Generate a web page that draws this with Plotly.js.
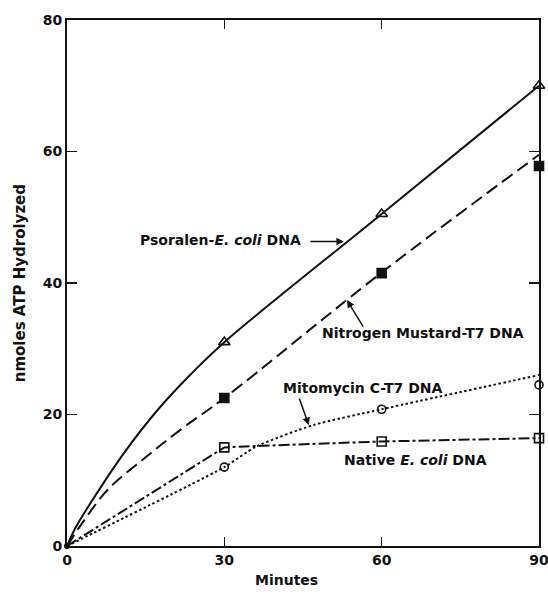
<!DOCTYPE html>
<html>
<head>
<meta charset="utf-8">
<script src="https://cdn.plot.ly/plotly-3.0.1.min.js"></script>
<style>html,body{margin:0;padding:0;background:#fff;}#chart{width:548px;height:594px;}</style>
</head>
<body>
<div id="chart"></div>
<script>
// Measured points (minutes)
const minutes = [0, 30, 60, 90];
const psoralenPts = [0, 31, 50.5, 70];
const mustardPts = [0, 22.5, 41.5, 57.8];
const mitomycinPts = [0, 12, 20.8, 24.5];
const nativePts = [0, 15, 15.9, 16.4];

// Drawn curves
const psoralenCurveX = [0, 1.5, 4.7, 11.1, 17.4, 23.7, 30, 60, 90];
const psoralenCurveY = [0, 2.6, 6.8, 14.4, 20.8, 26.2, 31, 50.5, 70];
const mustardCurveX = [0, 3, 7.8, 15, 22, 30, 60, 90];
const mustardCurveY = [0, 3.6, 8.6, 13.5, 17.9, 22.5, 41.6, 59.5];
const mitomycinCurveX = [0, 30, 36, 47, 60, 90];
const mitomycinCurveY = [0, 12, 15.1, 18.4, 20.8, 26];
const nativeCurveX = [0, 30, 34, 40, 60, 90];
const nativeCurveY = [0, 15, 15.15, 15.3, 15.9, 16.4];

const xTicks = [0, 30, 60, 90];
const yTicks = [0, 20, 40, 60, 80];

const FONT = 'DejaVu Sans, Liberation Sans, sans-serif';
const INK = '#111';

function curve(x, y, dash, shape, sm) {
  return {x: x, y: y, type: 'scatter', mode: 'lines', showlegend: false, hoverinfo: 'skip',
    line: {color: INK, width: 2, dash: dash, shape: shape, smoothing: sm}, cliponaxis: false};
}
function pts(y, symbol, size) {
  return {x: minutes.slice(1), y: y.slice(1), type: 'scatter', mode: 'markers', showlegend: false,
    marker: {symbol: symbol, size: size, color: INK, line: {color: INK, width: 1.6}}, cliponaxis: false};
}

const traces = [
  curve(psoralenCurveX, psoralenCurveY, 'solid', 'spline', 1),
  curve(mustardCurveX, mustardCurveY, '13px,6px', 'spline', 1),
  curve(mitomycinCurveX, mitomycinCurveY, '2.5px,2.5px', 'spline', 0.6),
  curve(nativeCurveX, nativeCurveY, '11px,3px,3px,3px', 'linear', 0),
  pts(psoralenPts, 'triangle-up-open', 10),
  pts(mustardPts, 'square', 9),
  pts(mitomycinPts, 'circle-open', 8),
  pts(nativePts, 'square-open', 9),
  {x: [0], y: [0], type: 'scatter', mode: 'markers', showlegend: false,
   marker: {symbol: 'circle', size: 6, color: INK}, cliponaxis: false}
];

const tf = {family: FONT, size: 14, color: INK, weight: 'bold'};
const tickf = {family: FONT, size: 14, color: INK, weight: 'bold'};
const layout = {
  width: 548, height: 594,
  margin: {l: 67, r: 9, t: 20, b: 48},
  paper_bgcolor: '#fff', plot_bgcolor: '#fff',
  showlegend: false,
  xaxis: {range: [0, 90], tickvals: xTicks, ticktext: xTicks.map(String),
    ticks: 'inside', ticklen: 9, tickwidth: 1.5, tickcolor: INK, ticklabeloverflow: 'allow',
    showline: true, linecolor: INK, linewidth: 2, mirror: 'ticks',
    showgrid: false, zeroline: false, tickfont: tickf},
  yaxis: {range: [0, 80], tickvals: yTicks, ticktext: yTicks.map(String),
    ticks: 'inside', ticklen: 10, tickwidth: 1.5, tickcolor: INK, ticklabeloverflow: 'allow',
    showline: true, linecolor: INK, linewidth: 2, mirror: 'ticks',
    showgrid: false, zeroline: false, tickfont: tickf},
  annotations: [
    {xref: 'paper', yref: 'paper', x: -0.099, y: 0.5, xanchor: 'center', yanchor: 'middle',
     text: 'nmoles ATP Hydrolyzed', textangle: -90,
     showarrow: false, font: {family: FONT, size: 15, color: INK, weight: 'bold'}},
    {xref: 'paper', yref: 'paper', x: 0.464, y: -0.065, xanchor: 'center', yanchor: 'middle',
     text: 'Minutes', showarrow: false, font: {family: FONT, size: 14, color: INK, weight: 'bold'}},
    {xref: 'x', yref: 'y', x: 29.2, y: 46.5, text: 'Psoralen-<i>E. coli</i> DNA', showarrow: false, font: tf},
    {xref: 'x', yref: 'y', x: 67.9, y: 32.4, text: 'Nitrogen Mustard-T7 DNA', showarrow: false, font: tf},
    {xref: 'x', yref: 'y', x: 56.4, y: 24.0, text: 'Mitomycin C-T7 DNA', showarrow: false, font: tf},
    {xref: 'x', yref: 'y', x: 66.4, y: 13.1, text: 'Native <i>E. coli</i> DNA', showarrow: false, font: tf},
    {xref: 'x', yref: 'y', x: 52.8, y: 46.3, text: '', showarrow: true, ax: -35, ay: 0,
     arrowhead: 2, arrowsize: 1, arrowwidth: 1.5, arrowcolor: INK, standoff: 0},
    {xref: 'x', yref: 'y', x: 53.4, y: 37.4, text: '', showarrow: true, ax: 17, ay: 28,
     arrowhead: 2, arrowsize: 1, arrowwidth: 1.5, arrowcolor: INK, standoff: 0},
    {xref: 'x', yref: 'y', x: 46.1, y: 18.4, text: '', showarrow: true, ax: -10, ay: -28,
     arrowhead: 2, arrowsize: 1, arrowwidth: 1.5, arrowcolor: INK, standoff: 0}
  ]
};

Plotly.newPlot('chart', traces, layout, {displayModeBar: false, staticPlot: true});
</script>
</body>
</html>
